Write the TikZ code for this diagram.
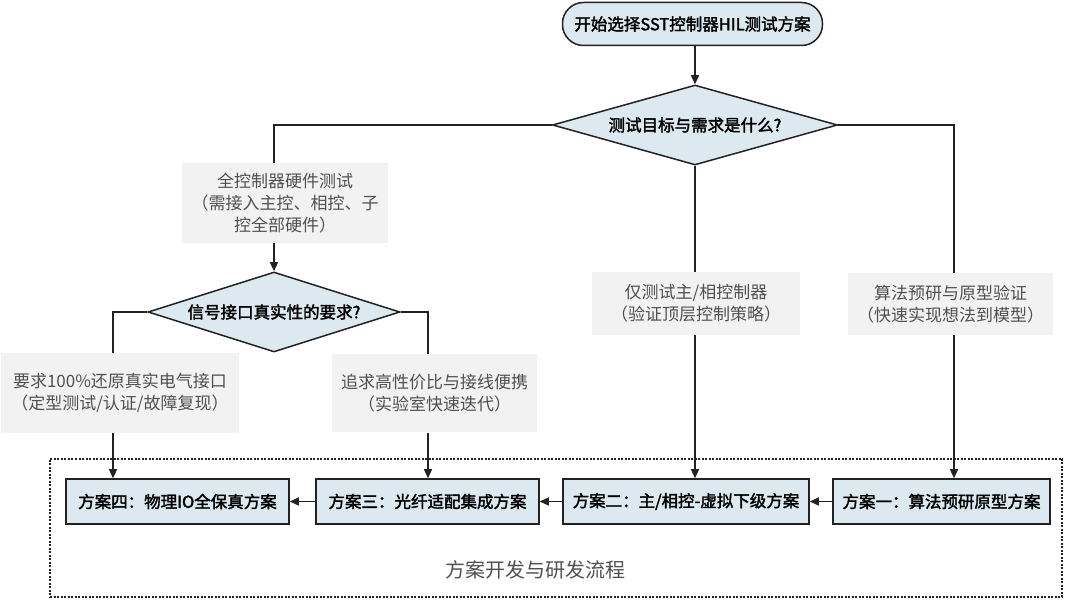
\documentclass[tikz,border=0pt]{standalone}
\usepackage{fontspec}
\setmainfont{Noto Sans CJK SC}[AutoFakeBold=2]
\usetikzlibrary{shapes.geometric,arrows.meta}
\definecolor{bluefill}{HTML}{DDE9F0}
\definecolor{grayfill}{HTML}{F2F2F2}
\definecolor{graytext}{HTML}{505050}
\definecolor{linecol}{HTML}{222222}
\begin{document}
\begin{tikzpicture}[x=1pt,y=-1pt,
  conn/.style={line width=1.3pt, draw=linecol},
  arr/.style={conn, -{Triangle[length=9pt,width=8pt]}},
  bluebox/.style={draw=linecol, line width=1.5pt, fill=bluefill, text=black,
    font=\fontsize{16.5}{20}\selectfont\bfseries, inner sep=0pt, minimum height=45pt},
  startbox/.style={bluebox, rounded corners=21pt, minimum height=43pt},
  graybox/.style={fill=grayfill, text=graytext, font=\fontsize{17}{22}\selectfont,
    align=center, inner sep=0pt},
  decision/.style={diamond, draw=linecol, line width=1.5pt, fill=bluefill, text=black,
    font=\fontsize{16.5}{20}\selectfont\bfseries, inner sep=0pt},
  framebox/.style={draw=linecol, line width=1.2pt, dash pattern=on 2pt off 1.5pt},
  flowlabel/.style={text=graytext, font=\fontsize{20}{24}\selectfont, inner sep=0pt}
]
\useasboundingbox (0,0) rectangle (1080,601);

% column coordinates
\coordinate (xa) at (113,0);
\coordinate (xb) at (428,0);
\coordinate (xd) at (954,0);

% dashed frame
\node[framebox, minimum width=1012pt, minimum height=138pt] (frame) at (556,528) {};
\node[flowlabel] (flow) at (535,570) {方案开发与研发流程};

% nodes
\node[startbox, minimum width=260pt] (start) at (692.5,24) {开始选择SST控制器HIL测试方案};
\node[decision, shape aspect=3.5, minimum width=285pt, minimum height=80pt] (d1) at (695,125) {测试目标与需求是什么?};
\node[graybox, minimum width=206pt, minimum height=80pt] (g1) at (285,203) {全控制器硬件测试\\（需接入主控、相控、子\\控全部硬件）};
\node[decision, shape aspect=3.2, minimum width=252pt, minimum height=80pt] (d2) at (274,312) {信号接口真实性的要求?};
\node[graybox, minimum width=238pt, minimum height=80pt] (g2) at (120,393) {要求100\%还原真实电气接口\\（定型测试/认证/故障复现）};
\node[graybox, minimum width=205pt, minimum height=78pt] (g3) at (434.5,393.5) {追求高性价比与接线便携\\（实验室快速迭代）};
\node[graybox, minimum width=208pt, minimum height=63pt] (g4) at (696,303.5) {仅测试主/相控制器\\（验证顶层控制策略）};
\node[graybox, minimum width=205pt, minimum height=62pt] (g5) at (950.5,304) {算法预研与原型验证\\（快速实现想法到模型）};

\node[bluebox, minimum width=223pt] (b4) at (177.5,501.5) {方案四：物理IO全保真方案};
\node[bluebox, minimum width=223pt] (b3) at (427.5,501.5) {方案三：光纤适配集成方案};
\node[bluebox, minimum width=246pt] (b2) at (686,501.5) {方案二：主/相控-虚拟下级方案};
\node[bluebox, minimum width=217pt] (b1) at (941.5,501.5) {方案一：算法预研原型方案};

% connectors
\draw[arr] (start.south -| d1.north) -- (d1.north);
\draw[conn] (d1.west) -| (d2.north |- g1.north);
\draw[arr] (d2.north |- g1.south) -- (d2.north);
\draw[conn] (d2.west) -| (xa |- g2.north);
\draw[arr] (xa |- g2.south) -- (xa |- b4.north);
\draw[conn] (d2.east) -| (xb |- g3.north);
\draw[arr] (xb |- g3.south) -- (xb |- b3.north);
\draw[conn] (d1.south) -- (d1.south |- g4.north);
\draw[arr] (d1.south |- g4.south) -- (d1.south |- b2.north);
\draw[conn] (d1.east) -| (xd |- g5.north);
\draw[arr] (xd |- g5.south) -- (xd |- b1.north);
\draw[arr] (b1.west) -- (b2.east);
\draw[arr] (b2.west) -- (b3.east);
\draw[arr] (b3.west) -- (b4.east);
\end{tikzpicture}
\end{document}
